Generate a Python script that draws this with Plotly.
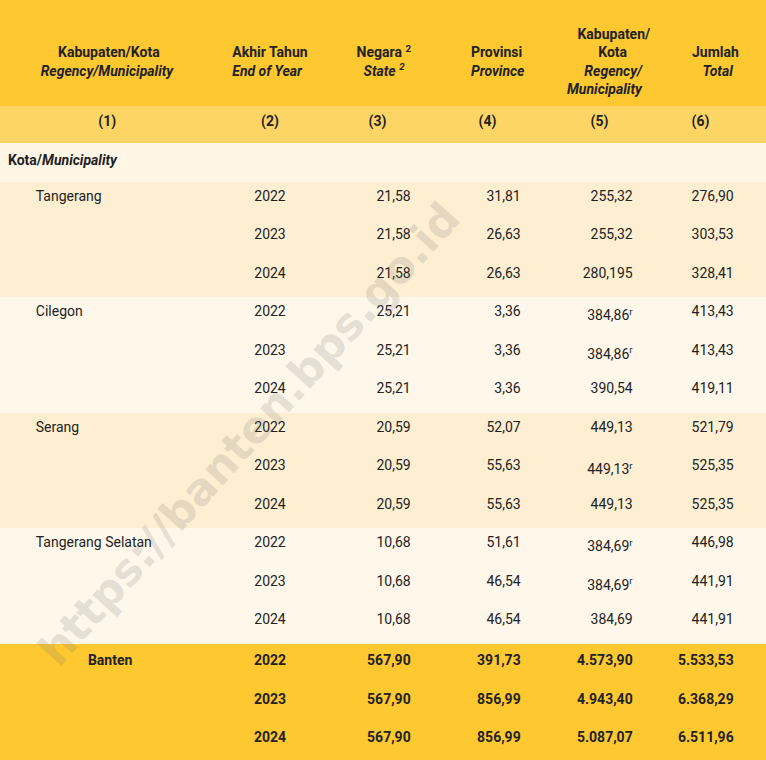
import plotly.graph_objects as go

regions = ["Tangerang", "Cilegon", "Serang", "Tangerang Selatan"]
years = ["2022", "2023", "2024"]
state = [["21,58", "21,58", "21,58"], ["25,21", "25,21", "25,21"],
         ["20,59", "20,59", "20,59"], ["10,68", "10,68", "10,68"]]
prov = [["31,81", "26,63", "26,63"], ["3,36", "3,36", "3,36"],
        ["52,07", "55,63", "55,63"], ["51,61", "46,54", "46,54"]]
kab = [["255,32", "255,32", "280,195"], ["384,86<sup>r</sup>", "384,86<sup>r</sup>", "390,54"],
       ["449,13", "449,13<sup>r</sup>", "449,13"], ["384,69<sup>r</sup>", "384,69<sup>r</sup>", "384,69"]]
total = [["276,90", "303,53", "328,41"], ["413,43", "413,43", "419,11"],
         ["521,79", "525,35", "525,35"], ["446,98", "441,91", "441,91"]]
banten_state = ["567,90", "567,90", "567,90"]
banten_prov = ["391,73", "856,99", "856,99"]
banten_kab = ["4.573,90", "4.943,40", "5.087,07"]
banten_total = ["5.533,53", "6.368,29", "6.511,96"]

NB = "\u00a0"
T = NB + "<br>" + NB + "<br>"
headers = [T + NB * 5 + "<b>Kabupaten/Kota</b><br><b><i>Regency/Municipality</i></b>",
           T + "<b>Akhir Tahun</b><br><b><i>End of Year</i></b>",
           T + "<b>Negara <sup>2</sup></b><br>" + NB * 2 + "<b><i>State <sup>2</sup></i></b>",
           T + "<b>Provinsi</b><br><b><i>Province</i></b>",
           NB + "<br>" + NB * 3 + "<b>Kabupaten/</b><br>" + NB * 9 + "<b>Kota</b><br>" + NB * 5 +
           "<b><i>Regency/</i></b><br><b><i>Municipality</i></b>",
           T + "<b>Jumlah</b><br>" + NB * 3 + "<b><i>Total</i></b>"]

YEL = "#FDC830"; NUM = "#FDD564"; KOTA = "#FFF6E6"; DARK = "#FEEFD2"; LIGHT = "#FFF7EA"
P = NB * 7

cols = [[] for _ in range(6)]
fills = []
def add(row, fill, pad=P):
    for i, v in enumerate(row):
        cols[i].append(v + pad if i >= 2 and v else v)
    fills.append(fill)

add([NB * 26 + "<b>(1)</b>", "<b>(2)</b>", "<b>(3)</b>", "<b>(4)</b>", "<b>(5)</b>", "<b>(6)</b>"],
    NUM, pad=NB * 14)
add(["<b>Kota/<i>Municipality</i></b>", "", "", "", "", ""], KOTA)
for r, name in enumerate(regions):
    fill = DARK if r % 2 == 0 else LIGHT
    for k, y in enumerate(years):
        nm = (NB * 8 + name) if k == 0 else ""
        add([nm, y, state[r][k], prov[r][k], kab[r][k], total[r][k]], fill)
for k, y in enumerate(years):
    nm = (NB * 23 + "<b>Banten</b>") if k == 0 else ""
    add([nm, f"<b>{y}</b>", f"<b>{banten_state[k]}</b>", f"<b>{banten_prov[k]}</b>",
         f"<b>{banten_kab[k]}</b>", f"<b>{banten_total[k]}</b>"], YEL)

aligns = ["left", "center", "right", "right", "right", "right"]

font = "Roboto, sans-serif"
fig = go.Figure(go.Table(
    columnwidth=[215, 110, 118, 110, 112, 101],
    domain=dict(x=[0, 1], y=[0, 1]),
    header=dict(values=headers, fill_color=YEL, line_color=YEL, height=105,
                font=dict(family=font, size=14, color="#222"), align="center"),
    cells=dict(values=cols, fill_color=[fills] * 6, line_color=[fills] * 6,
               height=38.5, align=aligns,
               font=dict(family=font, size=14, color="#222")),
))
fig.add_annotation(text="<b>https://banten.bps.go.id</b>", x=0.325, y=0.43, xref="paper", yref="paper",
                   xanchor="center", yanchor="middle",
                   showarrow=False, textangle=-48,
                   font=dict(family="DejaVu Sans", size=44, color="rgba(120,120,120,0.2)"))
fig.update_layout(width=766, height=760, margin=dict(l=0, r=0, t=0, b=0),
                  paper_bgcolor="white")
fig.write_html("out.html", config={"displayModeBar": False},
               post_script="document.body.style.margin='0';")
